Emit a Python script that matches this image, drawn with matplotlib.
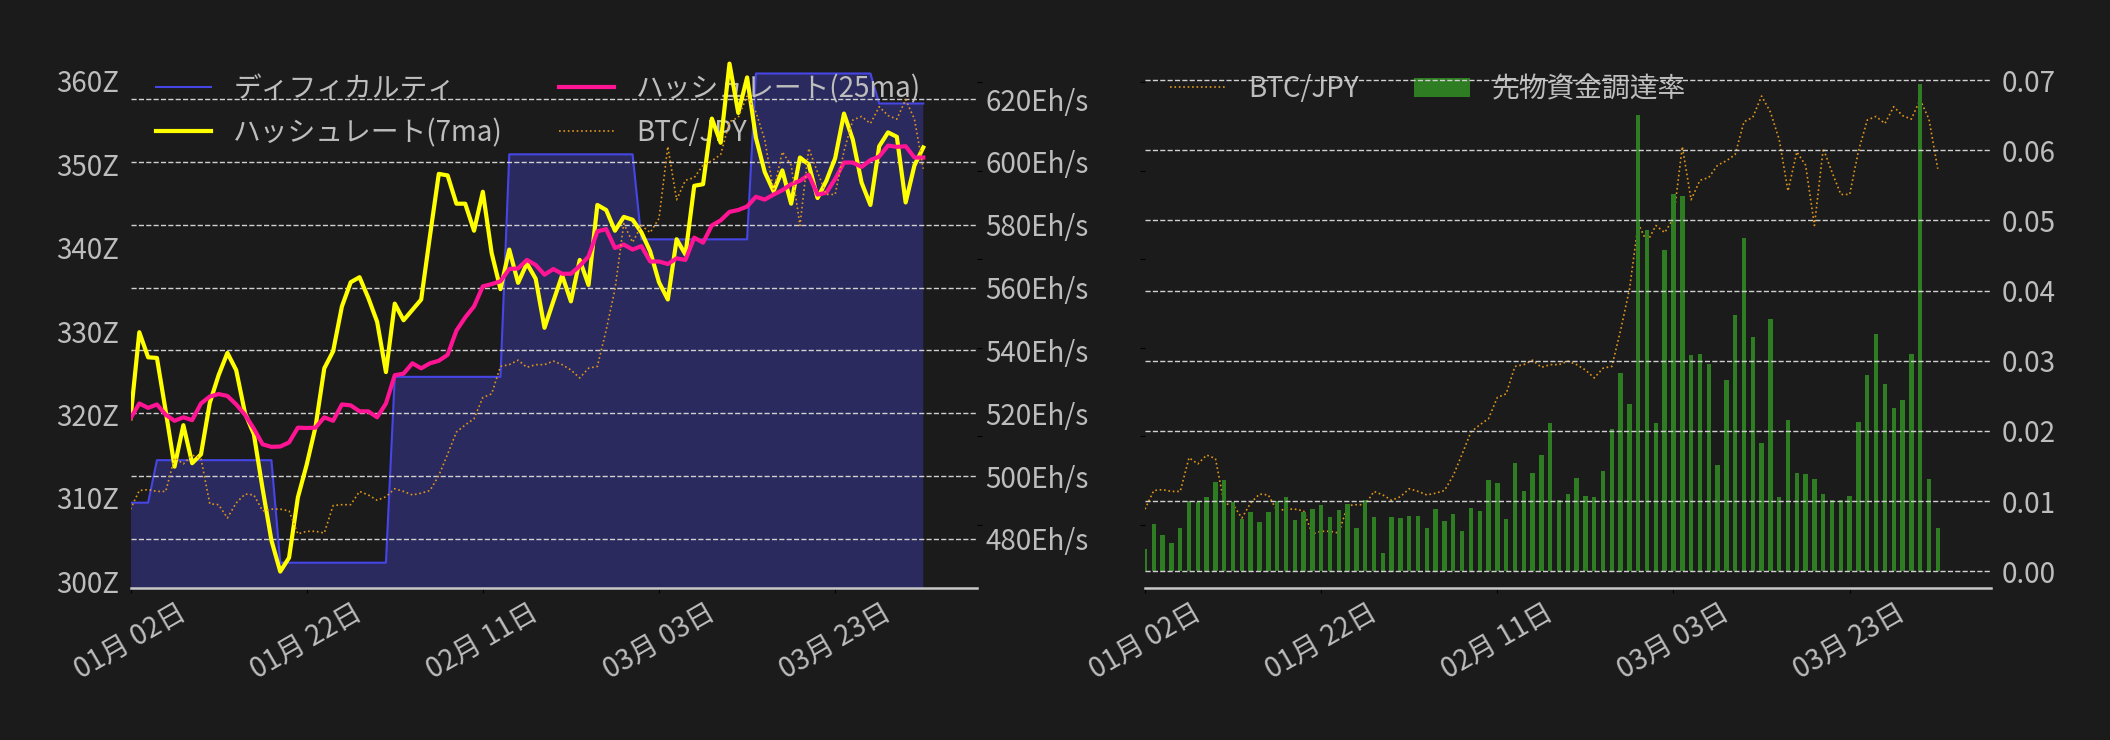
import numpy as np
import pandas as pd
import matplotlib
matplotlib.use("Agg")
from matplotlib import pyplot as plt
import matplotlib.dates as mdates
from matplotlib.ticker import FuncFormatter

plt.rcParams['font.family'] = ['Noto Sans CJK JP', 'DejaVu Sans']
plt.rcParams['font.size'] = 20

BG = '#1b1b1b'
TXT = '#bdbdbd'

# daily data, 2025-01-02 .. 2025-04-02
dates = pd.date_range('2025-01-02', periods=91, freq='D')

# difficulty (Z)
difficulty = ([309.4] * 3 + [314.5] * 14 + [302.2] * 13 + [324.5] * 13
              + [351.2] * 15 + [341.0] * 13 + [360.9] * 14 + [357.3] * 6)

# hashrate, Eh/s
hash_7ma = [518.4, 545.8, 537.8, 537.6, 520.6, 503.0, 516.2, 504.1, 506.9, 523.3,
            532.1, 539.2, 533.7, 520.0, 513.4, 495.9, 479.5, 469.6, 474.0, 493.2,
            503.6, 515.6, 534.3, 539.7, 554.0, 561.7, 563.3, 556.7, 549.1, 533.1,
            554.9, 549.6, 552.9, 556.2, 576.5, 596.2, 595.7, 586.7, 586.7, 578.1,
            590.5, 571.0, 559.5, 572.1, 561.5, 567.7, 562.8, 547.2, 555.6, 563.9,
            555.6, 568.8, 560.8, 586.3, 584.7, 578.1, 582.5, 581.6, 577.6, 571.5,
            561.7, 556.2, 575.4, 570.5, 592.4, 592.9, 613.8, 606.1, 631.3, 615.6,
            626.9, 607.7, 596.8, 590.7, 597.3, 586.7, 601.4, 599.2, 588.5, 594.0,
            601.2, 615.4, 607.1, 593.4, 586.3, 605.0, 609.4, 608.0, 587.1, 598.9,
            604.6]

hash_25ma = [518.4, 523.1, 521.7, 522.8, 519.5, 517.6, 518.7, 517.8, 523.1, 525.3,
             526.1, 525.5, 522.8, 519.5, 515.1, 510.1, 509.3, 509.4, 510.7, 515.4,
             515.3, 515.4, 518.7, 517.6, 522.8, 522.5, 520.6, 520.6, 518.7, 523.1,
             532.1, 532.6, 535.9, 534.3, 535.9, 536.7, 538.6, 546.3, 550.5, 554.0,
             560.4, 561.1, 562.0, 565.9, 566.1, 568.8, 567.2, 564.1, 565.9, 564.4,
             564.4, 566.9, 569.9, 577.9, 578.6, 572.6, 573.7, 572.1, 573.2, 568.3,
             568.3, 567.5, 569.3, 568.8, 575.9, 574.3, 579.8, 581.4, 584.1, 584.7,
             585.8, 588.9, 588.0, 589.6, 591.0, 592.9, 594.0, 595.9, 589.6, 590.2,
             594.6, 599.8, 599.8, 598.4, 600.6, 601.7, 605.2, 604.8, 605.0, 601.4,
             601.4]

# BTC/JPY, million yen
btc_jpy = [10.18, 10.39, 10.40, 10.38, 10.38, 10.76, 10.69, 10.79, 10.75, 10.24,
           10.23, 10.08, 10.25, 10.35, 10.34, 10.16, 10.18, 10.18, 10.16, 9.90,
           9.93, 9.93, 9.91, 10.22, 10.23, 10.23, 10.38, 10.34, 10.28, 10.32,
           10.41, 10.38, 10.34, 10.36, 10.39, 10.56, 10.80, 11.05, 11.13, 11.20,
           11.44, 11.48, 11.79, 11.81, 11.86, 11.78, 11.81, 11.81, 11.85, 11.81,
           11.75, 11.66, 11.77, 11.79, 12.20, 12.66, 13.40, 13.19, 13.38, 13.30,
           13.46, 14.27, 13.67, 13.89, 13.92, 14.06, 14.11, 14.18, 14.55, 14.60,
           14.84, 14.66, 14.35, 13.77, 14.21, 14.06, 13.38, 14.25, 13.98, 13.73,
           13.73, 14.22, 14.57, 14.61, 14.53, 14.72, 14.62, 14.58, 14.80, 14.58,
           14.02]

# futures funding rate
funding = [0.0032, 0.0067, 0.0052, 0.0040, 0.0062, 0.0100, 0.0099, 0.0106, 0.0127, 0.0130,
           0.0099, 0.0075, 0.0084, 0.0070, 0.0084, 0.0100, 0.0106, 0.0073, 0.0084, 0.0089,
           0.0094, 0.0077, 0.0087, 0.0096, 0.0062, 0.0102, 0.0077, 0.0026, 0.0077, 0.0076,
           0.0079, 0.0079, 0.0062, 0.0089, 0.0072, 0.0081, 0.0057, 0.0090, 0.0086, 0.0130,
           0.0126, 0.0075, 0.0154, 0.0114, 0.0140, 0.0166, 0.0211, 0.0102, 0.0110, 0.0133,
           0.0107, 0.0106, 0.0143, 0.0203, 0.0283, 0.0239, 0.0650, 0.0487, 0.0211, 0.0458,
           0.0538, 0.0535, 0.0308, 0.0310, 0.0296, 0.0151, 0.0272, 0.0365, 0.0475, 0.0334,
           0.0183, 0.0359, 0.0106, 0.0216, 0.0140, 0.0138, 0.0132, 0.0110, 0.0102, 0.0102,
           0.0107, 0.0213, 0.0280, 0.0338, 0.0267, 0.0233, 0.0244, 0.0310, 0.0695, 0.0132,
           0.0062]

tick_dates = pd.to_datetime(['2025-01-02', '2025-01-22', '2025-02-11', '2025-03-03', '2025-03-23'])
diff_ticks = [300, 310, 320, 330, 340, 350, 360]
hash_ticks = [480, 500, 520, 540, 560, 580, 600, 620]
btc_ticks = [10, 11, 12, 13, 14, 15]
fund_ticks = [0.00, 0.01, 0.02, 0.03, 0.04, 0.05, 0.06, 0.07]

x_left = dates[0]
x_right = dates[0] + pd.Timedelta(days=96.1)


def hide_spines(ax):
    for s in ax.spines.values():
        s.set_visible(False)


def style_bottom(ax):
    ax.spines['bottom'].set_visible(True)
    ax.spines['bottom'].set_color('#c8c8c8')
    ax.spines['bottom'].set_linewidth(1.8)
    ax.set_xlim(x_left, x_right)
    ax.set_xticks(tick_dates)
    ax.xaxis.set_major_formatter(mdates.DateFormatter('%m月 %d日'))
    ax.tick_params(axis='x', color='black', labelcolor=TXT, labelrotation=30)


fig = plt.figure(figsize=(21.1, 7.4), dpi=100, facecolor=BG)

# ---- left: difficulty / hashrate / BTC
ax1 = fig.add_axes([0.06185, 0.20514, 0.40118, 0.72865], facecolor=BG)
ax2 = ax1.twinx()
ax3 = ax1.twinx()
for a in (ax1, ax2, ax3):
    hide_spines(a)

l_diff, = ax1.plot(dates, difficulty, color='#4646e6', lw=1.5, label='ディフィカルティ')
ax1.fill_between(dates, difficulty, 0, color='#2a2a5e', lw=0)
ax1.set_ylim(299.14, 363.84)
ax1.set_yticks(diff_ticks)
ax1.yaxis.set_major_formatter(FuncFormatter(lambda v, p: f'{v:.0f}Z'))
ax1.tick_params(axis='y', length=0, pad=8.5, labelcolor=TXT)
style_bottom(ax1)

l_7, = ax2.plot(dates, hash_7ma, color='#ffff00', lw=3, label='ハッシュレート(7ma)')
l_25, = ax2.plot(dates, hash_25ma, color='#ff1493', lw=3, label='ハッシュレート(25ma)')
ax2.set_ylim(464.3, 635.95)
ax2.set_yticks(hash_ticks)
ax2.yaxis.set_major_formatter(FuncFormatter(lambda v, p: f'{v:.0f}Eh/s'))
ax2.tick_params(axis='y', length=0, pad=6, labelcolor=TXT)
ax2.grid(axis='y', ls='--', lw=1, color='#d0d0d0')

l_btc, = ax3.plot(dates, btc_jpy, color='#e0961a', lw=1.2, ls=':', label='BTC/JPY')
ax3.set_ylim(9.288, 15.371)
ax3.set_yticks(btc_ticks)
ax3.tick_params(axis='y', color='black', labelright=False)

ax1.legend(handles=[l_diff, l_7, l_25, l_btc], loc='upper left', ncol=2,
           frameon=False, labelcolor=TXT)

# ---- right: BTC / funding rate
ax4 = fig.add_axes([0.54265, 0.20514, 0.40118, 0.72865], facecolor=BG)
ax5 = ax4.twinx()
for a in (ax4, ax5):
    hide_spines(a)

r_btc, = ax4.plot(dates, btc_jpy, color='#e0961a', lw=1.2, ls=':', label='BTC/JPY')
ax4.set_ylim(9.288, 15.371)
ax4.set_yticks(btc_ticks)
ax4.tick_params(axis='y', color='black', labelleft=False)
style_bottom(ax4)

bars = ax5.bar(dates, funding, width=0.5, color='#2e7d22', label='先物資金調達率')
ax5.set_ylim(-0.00242, 0.07443)
ax5.set_yticks(fund_ticks)
ax5.yaxis.set_major_formatter(FuncFormatter(lambda v, p: f'{v:.2f}'))
ax5.tick_params(axis='y', length=0, pad=7, labelcolor=TXT)
ax5.grid(axis='y', ls='--', lw=1, color='#d0d0d0')
ax5.set_xlim(x_left, x_right)

ax4.legend(handles=[r_btc, bars], loc='upper left', ncol=2,
           frameon=False, labelcolor=TXT)

fig.savefig('out.png', dpi=100, facecolor=BG)
